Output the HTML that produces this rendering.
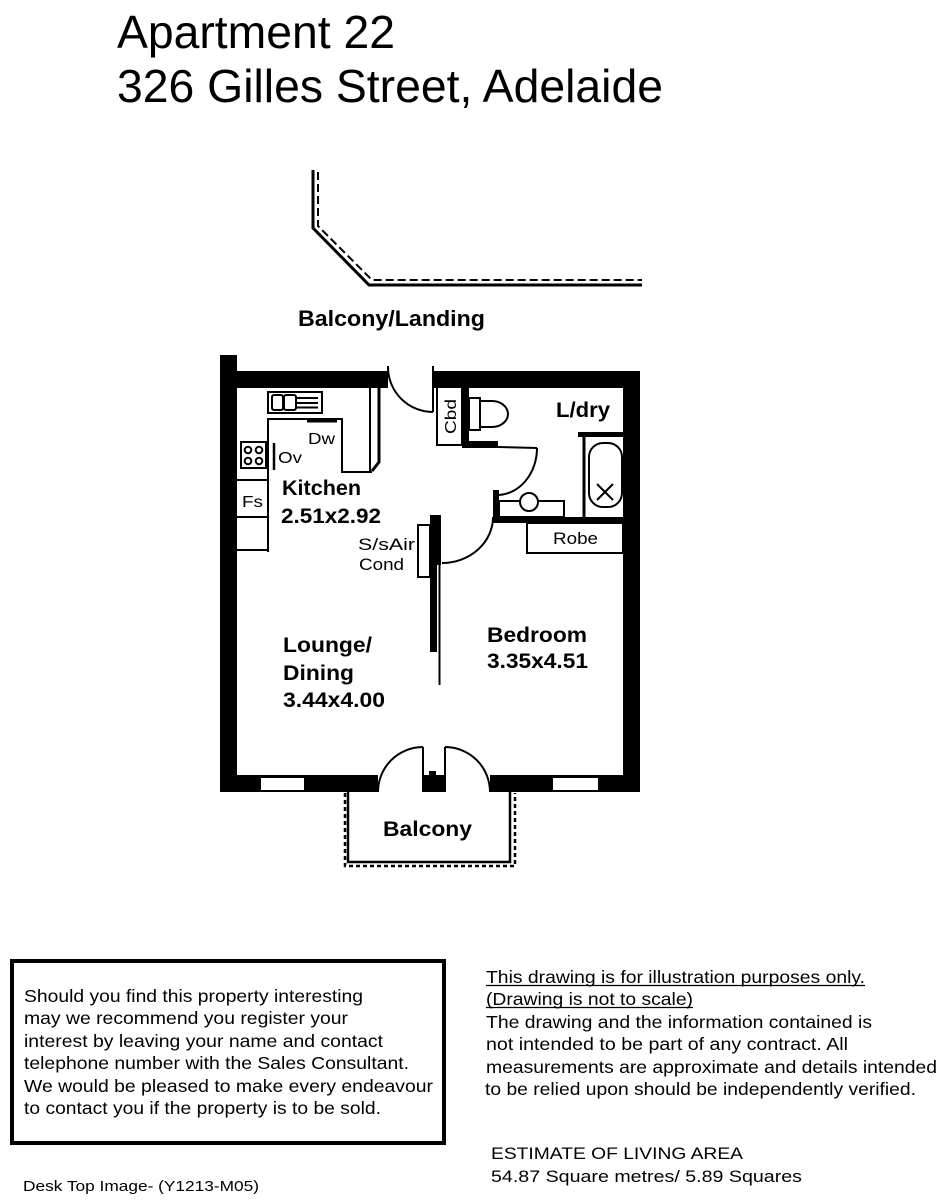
<!DOCTYPE html>
<html>
<head>
<meta charset="utf-8">
<style>
html,body{margin:0;padding:0;background:#fff;}
svg{display:block;}
text{font-family:"Liberation Sans",Arial,sans-serif;fill:#000;}
.b{font-weight:bold;}
</style>
</head>
<body>
<svg width="951" height="1200" viewBox="0 0 951 1200" xmlns="http://www.w3.org/2000/svg">
<rect x="0" y="0" width="951" height="1200" fill="#fff"/>

<!-- Title -->
<text x="117" y="48" font-size="46" textLength="278" lengthAdjust="spacingAndGlyphs">Apartment 22</text>
<text x="117" y="102" font-size="46" textLength="546" lengthAdjust="spacingAndGlyphs">326 Gilles Street, Adelaide</text>

<!-- Top balcony/landing lines -->
<g fill="none" stroke="#000">
<path d="M313,170 V228 L369,285 H642" stroke-width="3"/>
<path d="M318,172 V226 L372,280 H642" stroke-width="2" stroke-dasharray="8,4"/>
</g>
<text x="298" y="326" font-size="22" class="b" textLength="187" lengthAdjust="spacingAndGlyphs">Balcony/Landing</text>

<!-- Outer walls -->
<g fill="#000">
<rect x="220" y="355" width="17" height="437"/>
<rect x="220" y="371" width="168" height="17"/>
<rect x="433" y="371" width="207" height="17"/>
<rect x="623" y="371" width="17" height="421"/>
<rect x="220" y="775" width="158" height="17"/>
<rect x="490" y="775" width="150" height="17"/>
<rect x="422" y="775" width="24" height="17"/>
<rect x="429" y="771" width="7" height="5"/>
</g>
<!-- windows -->
<rect x="261" y="778" width="43" height="12" fill="#fff"/>
<rect x="553" y="778" width="45" height="12" fill="#fff"/>

<!-- entry door -->
<g fill="none" stroke="#000" stroke-width="2">
<line x1="433" y1="366" x2="433" y2="412"/>
<line x1="388" y1="366" x2="388" y2="372"/>
<path d="M388,367 A45,45 0 0,0 433,412"/>
</g>

<!-- Cbd -->
<rect x="437" y="387" width="25" height="58" fill="#fff" stroke="#000" stroke-width="2"/>
<text x="0" y="0" font-size="16" transform="translate(456,434) rotate(-90)" textLength="35" lengthAdjust="spacingAndGlyphs">Cbd</text>
<g fill="#000">
<rect x="462" y="387" width="7" height="61"/>
<rect x="462" y="441" width="36" height="7"/>
</g>

<!-- Toilet -->
<g fill="#fff" stroke="#000" stroke-width="2">
<rect x="469" y="398" width="11" height="32"/>
<path d="M480,401 H492 A16,13 0 0 1 492,427 H480 Z"/>
</g>

<text x="556" y="417" font-size="21" class="b" textLength="54" lengthAdjust="spacingAndGlyphs">L/dry</text>

<!-- Laundry -->
<rect x="578" y="432" width="45" height="5" fill="#000"/>
<line x1="584" y1="437" x2="584" y2="517" stroke="#000" stroke-width="3"/>
<rect x="589" y="443" width="33" height="64" rx="14" ry="14" fill="#fff" stroke="#000" stroke-width="2"/>
<g stroke="#000" stroke-width="2">
<line x1="597" y1="484" x2="613" y2="500"/>
<line x1="613" y1="484" x2="597" y2="500"/>
</g>

<!-- bathroom door -->
<g fill="none" stroke="#000" stroke-width="2">
<line x1="498" y1="447" x2="537" y2="448"/>
<path d="M537,448 A40,47 0 0 1 497,495"/>
</g>
<g fill="#000">
<rect x="493" y="490" width="6" height="30"/>
<rect x="493" y="517" width="130" height="6"/>
</g>
<!-- basin -->
<rect x="499" y="501" width="65" height="16" fill="#fff" stroke="#000" stroke-width="2"/>
<circle cx="529" cy="502" r="9" fill="#fff" stroke="#000" stroke-width="2"/>

<!-- Robe -->
<rect x="527" y="523" width="96" height="30" fill="#fff" stroke="#000" stroke-width="2"/>
<text x="553" y="544" font-size="17" textLength="45" lengthAdjust="spacingAndGlyphs">Robe</text>

<!-- bedroom door -->
<path d="M493,517 A51,46 0 0 1 442,563" fill="none" stroke="#000" stroke-width="2"/>

<!-- partition / AC -->
<rect x="418" y="525" width="12" height="52" fill="#fff" stroke="#000" stroke-width="2"/>
<rect x="430" y="515" width="11" height="50" fill="#000"/>
<rect x="430" y="515" width="7" height="137" fill="#000"/>
<line x1="439.5" y1="560" x2="439.5" y2="685" stroke="#000" stroke-width="2"/>
<text x="358" y="550" font-size="17" textLength="57" lengthAdjust="spacingAndGlyphs">S/sAir</text>
<text x="359" y="570" font-size="17" textLength="45" lengthAdjust="spacingAndGlyphs">Cond</text>

<!-- Kitchen -->
<g fill="none" stroke="#000" stroke-width="2">
<rect x="268" y="392" width="54" height="21" fill="#fff"/>
<rect x="272" y="395" width="11" height="15" rx="2"/>
<rect x="284" y="395" width="12" height="15" rx="2"/>
<line x1="297" y1="398" x2="318" y2="398"/>
<line x1="297" y1="403" x2="318" y2="403"/>
<line x1="297" y1="407.5" x2="318" y2="407.5"/>
<path d="M268,552 V419 H342 V472 H372"/>
<path d="M370,388 V471"/>
<path d="M379,388 V462 L372,471" stroke-width="3"/>
<line x1="237" y1="480" x2="268" y2="480"/>
<line x1="237" y1="517" x2="268" y2="517"/>
<line x1="237" y1="550" x2="268" y2="550"/>
<rect x="241" y="442" width="25" height="26"/>
<circle cx="248" cy="450" r="3.3"/>
<circle cx="259" cy="450" r="3.3"/>
<circle cx="248" cy="461" r="3.3"/>
<circle cx="259" cy="461" r="3.3"/>
<line x1="274" y1="443" x2="274" y2="470" stroke-width="2.5"/>
<line x1="307" y1="421" x2="337" y2="421" stroke-width="3"/>
</g>
<text x="308" y="444" font-size="16" textLength="27" lengthAdjust="spacingAndGlyphs">Dw</text>
<text x="278" y="463" font-size="16" textLength="24" lengthAdjust="spacingAndGlyphs">Ov</text>
<text x="242" y="507" font-size="16" textLength="21" lengthAdjust="spacingAndGlyphs">Fs</text>
<text x="282" y="495" font-size="21" class="b" textLength="79" lengthAdjust="spacingAndGlyphs">Kitchen</text>
<text x="281" y="523" font-size="21" class="b" textLength="100" lengthAdjust="spacingAndGlyphs">2.51x2.92</text>

<!-- Lounge / Bedroom -->
<text x="283" y="652" font-size="21" class="b" textLength="89" lengthAdjust="spacingAndGlyphs">Lounge/</text>
<text x="283" y="680" font-size="21" class="b" textLength="71" lengthAdjust="spacingAndGlyphs">Dining</text>
<text x="283" y="707" font-size="21" class="b" textLength="102" lengthAdjust="spacingAndGlyphs">3.44x4.00</text>
<text x="487" y="642" font-size="21" class="b" textLength="100" lengthAdjust="spacingAndGlyphs">Bedroom</text>
<text x="487" y="668" font-size="21" class="b" textLength="101" lengthAdjust="spacingAndGlyphs">3.35x4.51</text>

<!-- balcony doors -->
<g fill="none" stroke="#000" stroke-width="2">
<line x1="423" y1="747" x2="423" y2="792"/>
<path d="M378,792 A45,45 0 0,1 423,747"/>
<line x1="445" y1="747" x2="445" y2="792"/>
<path d="M445,747 A45,45 0 0,1 490,792"/>
</g>

<!-- Balcony -->
<g fill="none" stroke="#000">
<path d="M348,792 V862 H510 V792" stroke-width="2.5"/>
<path d="M345,793 V866 H515 V793" stroke-width="2.5" stroke-dasharray="4,3"/>
</g>
<text x="383" y="836" font-size="21" class="b" textLength="89" lengthAdjust="spacingAndGlyphs">Balcony</text>

<!-- Bottom left box -->
<rect x="12" y="961" width="432" height="182" fill="none" stroke="#000" stroke-width="4"/>
<g font-size="17.5">
<text x="24" y="1002" textLength="339" lengthAdjust="spacingAndGlyphs">Should you find this property interesting</text>
<text x="24" y="1024" textLength="324" lengthAdjust="spacingAndGlyphs">may we recommend you register your</text>
<text x="24" y="1047" textLength="359" lengthAdjust="spacingAndGlyphs">interest by leaving your name and contact</text>
<text x="24" y="1069" textLength="385" lengthAdjust="spacingAndGlyphs">telephone number with the Sales Consultant.</text>
<text x="24" y="1092" textLength="409" lengthAdjust="spacingAndGlyphs">We would be pleased to make every endeavour</text>
<text x="24" y="1114" textLength="357" lengthAdjust="spacingAndGlyphs">to contact you if the property is to be sold.</text>
</g>
<text x="23" y="1191" font-size="15" textLength="236" lengthAdjust="spacingAndGlyphs">Desk Top Image- (Y1213-M05)</text>

<!-- Right text -->
<g font-size="17.5">
<text x="486" y="983" textLength="379" lengthAdjust="spacingAndGlyphs">This drawing is for illustration purposes only.</text>
<text x="486" y="1005" textLength="207" lengthAdjust="spacingAndGlyphs">(Drawing is not to scale)</text>
<text x="486" y="1028" textLength="386" lengthAdjust="spacingAndGlyphs">The drawing and the information contained is</text>
<text x="486" y="1050" textLength="362" lengthAdjust="spacingAndGlyphs">not intended to be part of any contract.  All</text>
<text x="486" y="1073" textLength="451" lengthAdjust="spacingAndGlyphs">measurements are approximate and details intended</text>
<text x="485" y="1095" textLength="431" lengthAdjust="spacingAndGlyphs">to be relied upon should be independently verified.</text>
</g>
<line x1="486" y1="985.5" x2="865" y2="985.5" stroke="#000" stroke-width="1.3"/>
<line x1="486" y1="1007.5" x2="693" y2="1007.5" stroke="#000" stroke-width="1.3"/>
<text x="491" y="1159" font-size="17" textLength="252" lengthAdjust="spacingAndGlyphs">ESTIMATE OF LIVING AREA</text>
<text x="491" y="1182" font-size="17" textLength="311" lengthAdjust="spacingAndGlyphs">54.87 Square metres/  5.89 Squares</text>
</svg>
</body>
</html>
